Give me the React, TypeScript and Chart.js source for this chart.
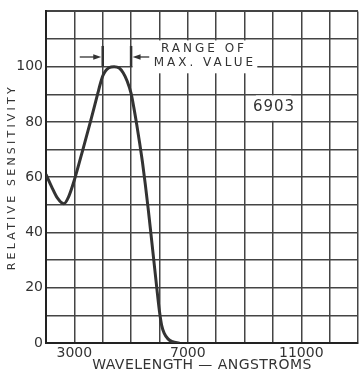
import React, { useEffect, useRef } from 'react';
import { Chart, registerables } from 'chart.js';

Chart.register(...registerables);

// ---- data ----
const wavelengths = [2000, 2200, 2400, 2630, 2800, 3000, 3300, 3565, 3830, 3920, 4000, 4100, 4220, 4400, 4580, 4720, 4860, 5000, 5100, 5200, 5300, 5400, 5500, 5600, 5700, 5800, 5900, 6000, 6080, 6170, 6300, 6460, 6700];
const sensitivity = [61, 56.5, 52.5, 50.4, 53, 59, 70, 80, 90.5, 94, 96.6, 98.5, 99.6, 100, 99.5, 97.8, 94.8, 90.3, 85, 79, 72.5, 65.5, 57.5, 48.8, 39.5, 30, 20.5, 11.5, 6.3, 3.5, 1.5, 0.5, 0];

const xLabelValues = [3000, 7000, 11000];
const yLabelValues = [0, 20, 40, 60, 80, 100];
const xRange = [2000, 13000];
const yRange = [0, 120];
const xStep = 1000;
const yStep = 10;

const xTitle = 'WAVELENGTH — ANGSTROMS';
const yTitle = 'RELATIVE SENSITIVITY';
const tubeLabel = '6903';
const rangeLabelLines = ['RANGE OF', 'MAX. VALUE'];
const rangeOfMax = [4000, 5000];

// ---- annotation placement (data units) ----
const place = {
  rangeLineBottom: 100,
  rangeLineTop: 107.5,
  arrowValue: 103.5,
  leftArrowStart: 3190,
  rightArrowStart: 5640,
  rangeLabelX: [7516, 7550],
  rangeLabelY: [106.4, 101.4],
  tubeLabelX: 10021,
  tubeLabelY: 85.5,
  rangeBox: [5050, 9450, 97.6, 109.5],
  tubeBox: [9400, 10650, 80.4, 89.6],
};

const FONT = '"DejaVu Sans", "Liberation Sans", sans-serif';
const INK = '#333333';

const annotationPlugin = {
  id: 'annotations',
  beforeDatasetsDraw(chart: any) {
    const { ctx, scales } = chart;
    const x = scales.x, y = scales.y;
    const rect = (b: number[]) => {
      const x0 = x.getPixelForValue(b[0]);
      const x1 = x.getPixelForValue(b[1]);
      const y0 = y.getPixelForValue(b[3]);
      const y1 = y.getPixelForValue(b[2]);
      ctx.fillRect(x0, y0, x1 - x0, y1 - y0);
    };
    ctx.save();
    ctx.fillStyle = '#ffffff';
    rect(place.rangeBox);
    rect(place.tubeBox);
    ctx.restore();
  },
  afterDatasetsDraw(chart: any) {
    const { ctx, scales } = chart;
    const x = scales.x, y = scales.y;
    ctx.save();
    ctx.strokeStyle = INK;
    ctx.fillStyle = INK;
    ctx.lineWidth = 2.5;
    for (const v of rangeOfMax) {
      const px = x.getPixelForValue(v);
      ctx.beginPath();
      ctx.moveTo(px, y.getPixelForValue(place.rangeLineBottom));
      ctx.lineTo(px, y.getPixelForValue(place.rangeLineTop));
      ctx.stroke();
    }
    const ay = y.getPixelForValue(place.arrowValue);
    const arrow = (fromV: number, toV: number) => {
      const x0 = x.getPixelForValue(fromV);
      const xt = x.getPixelForValue(toV);
      const dir = Math.sign(xt - x0);
      const tip = xt - dir * 1.5;
      ctx.lineWidth = 1.3;
      ctx.beginPath();
      ctx.moveTo(x0, ay);
      ctx.lineTo(tip - dir * 5, ay);
      ctx.stroke();
      ctx.beginPath();
      ctx.moveTo(tip, ay);
      ctx.lineTo(tip - dir * 8, ay - 2.8);
      ctx.lineTo(tip - dir * 8, ay + 2.8);
      ctx.closePath();
      ctx.fill();
    };
    arrow(place.leftArrowStart, rangeOfMax[0]);
    arrow(place.rightArrowStart, rangeOfMax[1]);
    ctx.textAlign = 'center';
    ctx.textBaseline = 'middle';
    ctx.font = `12px ${FONT}`;
    (ctx as any).letterSpacing = '3px';
    rangeLabelLines.forEach((t, i) => {
      ctx.fillText(t, x.getPixelForValue(place.rangeLabelX[i]) + 1.5, y.getPixelForValue(place.rangeLabelY[i]));
    });
    ctx.font = `15px ${FONT}`;
    (ctx as any).letterSpacing = '1px';
    ctx.fillText(tubeLabel, x.getPixelForValue(place.tubeLabelX) + 0.5, y.getPixelForValue(place.tubeLabelY));
    ctx.restore();
  },
};

const spacing: Record<string, string> = { y: '3.2px', x: '0.45px' };

const spacedTitlePlugin = {
  id: 'spacedTitle',
  beforeDraw(chart: any) {
    for (const id of Object.keys(spacing)) {
      const s = chart.scales[id];
      if (s && !s.__spaced) {
        const orig = s.drawTitle;
        s.drawTitle = function (...args: any[]) {
          const c = this.ctx;
          c.save();
          c.letterSpacing = spacing[id];
          orig.apply(this, args);
          c.restore();
        };
        s.__spaced = true;
      }
    }
  },
};

export default function App() {
  const ref = useRef<HTMLCanvasElement | null>(null);

  useEffect(() => {
    if (!ref.current) return;
    const chart = new Chart(ref.current, {
      type: 'line',
      data: {
        datasets: [
          {
            data: wavelengths.map((w, i) => ({ x: w, y: sensitivity[i] })),
            borderColor: INK,
            borderWidth: 3,
            pointRadius: 0,
            fill: false,
            cubicInterpolationMode: 'monotone',
          },
        ],
      },
      options: {
        responsive: false,
        animation: false,
        events: [],
        layout: { padding: { top: 9, left: 0, right: 0, bottom: 0 } },
        plugins: { legend: { display: false }, tooltip: { enabled: false } },
        scales: {
          x: {
            type: 'linear',
            min: xRange[0],
            max: xRange[1],
            afterFit: (s: any) => { s.height = 32; },
            ticks: {
              stepSize: xStep,
              autoSkip: false,
              maxRotation: 0,
              padding: 2,
              color: INK,
              font: { family: FONT, size: 14 },
              callback: (v: any) => (xLabelValues.includes(Number(v)) ? String(v) : ''),
            },
            grid: { color: '#444', lineWidth: 1.5, drawTicks: false },
            border: { display: true, color: '#222', width: 2 },
            title: {
              display: true,
              text: xTitle,
              color: INK,
              font: { family: FONT, size: 14 },
              padding: { top: 0, bottom: 1 },
            },
          },
          y: {
            type: 'linear',
            min: yRange[0],
            max: yRange[1],
            afterFit: (s: any) => { s.width = 46; },
            ticks: {
              stepSize: yStep,
              autoSkip: false,
              padding: 3,
              color: INK,
              font: { family: FONT, size: 14 },
              callback: (v: any) => (yLabelValues.includes(Number(v)) ? String(v) : ''),
            },
            grid: {
              color: '#444',
              lineWidth: (c: any) => (c.tick && c.tick.value === yRange[1] ? 2 : 1.5),
              drawTicks: false,
            },
            border: { display: true, color: '#222', width: 2 },
            title: {
              display: true,
              text: yTitle,
              color: INK,
              font: { family: FONT, size: 11 },
              padding: { top: 5.5, bottom: 0 },
            },
          },
        },
      },
      plugins: [annotationPlugin, spacedTitlePlugin],
    } as any);
    return () => chart.destroy();
  }, []);

  return (
    <div style={{ position: 'fixed', left: 0, top: 0, width: 360, height: 375, background: '#fff' }}>
      <canvas ref={ref} width={360} height={375} />
    </div>
  );
}
